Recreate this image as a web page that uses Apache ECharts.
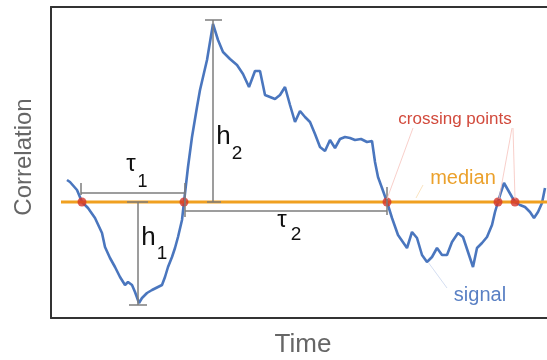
<!DOCTYPE html>
<html><head><meta charset="utf-8">
<script src="https://cdn.jsdelivr.net/npm/echarts@6/dist/echarts.min.js"></script>
<style>html,body{margin:0;padding:0;background:#fff}#c{width:547px;height:360px}</style>
</head><body><div id="c"></div>
<script>
// Signal (time, correlation); median level = 0
const time = [16,19,26,31,37,44,51,54,59,64,69,74,77,81,84,88,91,96,101,107,111,114,117,121,124,127,131,133,137,141,146,149,156,162,167,172,179,186,192,198,204,209,214,219,224,229,234,239,244,249,254,259,264,269,274,279,284,289,294,299,304,310,316,321,324,327,331,336,341,347,356,361,366,371,376,381,386,391,396,401,407,412,417,422,426,431,436,441,444,447,450,453,457,461,464,469,474,479,483,487,491,494];
const signal = [0.22,0.20,0.12,0.00,-0.06,-0.16,-0.31,-0.45,-0.56,-0.65,-0.75,-0.83,-0.80,-0.83,-0.90,-1.01,-0.96,-0.91,-0.88,-0.85,-0.83,-0.75,-0.65,-0.55,-0.46,-0.35,-0.18,0.00,0.35,0.65,0.95,1.12,1.42,1.78,1.62,1.50,1.43,1.37,1.28,1.15,1.31,1.31,1.07,1.05,1.03,1.07,1.15,0.97,0.80,0.91,0.85,0.80,0.68,0.55,0.51,0.62,0.54,0.63,0.65,0.64,0.62,0.63,0.60,0.61,0.40,0.25,0.14,0.00,-0.16,-0.33,-0.46,-0.30,-0.36,-0.53,-0.60,-0.55,-0.46,-0.53,-0.53,-0.40,-0.31,-0.35,-0.50,-0.65,-0.46,-0.41,-0.35,-0.23,-0.10,0.00,0.10,0.19,0.12,0.05,0.00,-0.03,-0.05,-0.10,-0.16,-0.10,-0.01,0.14];
const medianValue = 0;
const medianSpan = [10, 496];
const crossTimes = [31, 133, 336, 447, 464];
// annotation brackets (data units)
const tau1 = {from: 30, to: 134, level: 0.093, tickTop: 0.19, tickBottomL: 0.07, tickBottomR: -0.15};
const tau2 = {from: 134, to: 336, level: -0.087, tickTop: 0.15, tickBottom: -0.13};
const h1 = {at: 87, top: 0, bottom: -1.03, half: 10};
const h2 = {at: 162, top: 1.82, bottom: 0, half: 8};

const chart = echarts.init(document.getElementById('c'), null, {renderer: 'canvas'});
const sigData = time.map((t, i) => [t, signal[i]]);
const cross = crossTimes.map(t => [t, medianValue]);
const seg = (x1, y1, x2, y2) => [{coord: [x1, y1]}, {coord: [x2, y2]}];
const bracketLines = [
  seg(tau1.from, tau1.level, tau1.to, tau1.level),
  seg(tau1.from, tau1.tickTop, tau1.from, tau1.tickBottomL),
  seg(tau1.to, tau1.tickTop, tau1.to, tau1.tickBottomR),
  seg(tau2.from, tau2.level, tau2.to, tau2.level),
  seg(tau2.to, tau2.tickTop, tau2.to, tau2.tickBottom),
  seg(h1.at, h1.top, h1.at, h1.bottom),
  seg(h1.at - h1.half - 1, h1.top, h1.at + h1.half, h1.top),
  seg(h1.at - h1.half + 1, h1.bottom, h1.at + h1.half - 1, h1.bottom),
  seg(h2.at, h2.top, h2.at, h2.bottom),
  seg(h2.at - h2.half, h2.top, h2.at + h2.half + 1, h2.top),
  seg(h2.at - h2.half + 2, h2.bottom, h2.at + h2.half, h2.bottom)
];
const F = 'Liberation Sans, Arial, Helvetica, sans-serif';
const txt = (x, y, s, size, color, rot) => ({type: 'text', x: x, y: y, z: 100, rotation: rot || 0,
  style: {text: s, font: size + 'px ' + F, fill: color, textAlign: 'center', textVerticalAlign: 'middle'}});
const ln = (x1, y1, x2, y2, color) => ({type: 'line', z: 50, shape: {x1, y1, x2, y2},
  style: {stroke: color, lineWidth: 0.8}});
const frame = {show: true, onZero: false, lineStyle: {color: '#333', width: 2}};
const bare = {axisTick: {show: false}, axisLabel: {show: false}, splitLine: {show: false}};

chart.setOption({
  animation: false,
  grid: {left: 51, top: 7, right: 0, bottom: 42},
  xAxis: [
    Object.assign({type: 'value', min: 0, max: 496, position: 'bottom', axisLine: frame}, bare),
    Object.assign({type: 'value', min: 0, max: 496, position: 'top', axisLine: frame}, bare)
  ],
  yAxis: Object.assign({type: 'value', min: -1.16, max: 1.95, position: 'left', axisLine: frame}, bare),
  series: [
    {type: 'line', z: 1, data: [], markLine: {silent: true, symbol: 'none', animation: false, label: {show: false},
      lineStyle: {color: '#7d7d7d', width: 1.5, type: 'solid'}, data: bracketLines}},
    {type: 'line', z: 2, data: sigData, showSymbol: false, lineStyle: {color: '#4a76be', width: 2.6}},
    {type: 'line', z: 3, data: [[medianSpan[0], medianValue], [medianSpan[1], medianValue]], showSymbol: false,
      lineStyle: {color: '#f0a020', width: 3}},
    {type: 'scatter', z: 4, data: cross, symbolSize: 9, itemStyle: {color: '#d4342a'}}
  ],
  graphic: [
    txt(24, 157, 'Correlation', 24, '#666', Math.PI / 2),
    txt(303, 345, 'Time', 26, '#666'),
    txt(131, 164, 'τ', 24, '#111'), txt(142.5, 182.5, '1', 18, '#111'),
    txt(282, 220.5, 'τ', 24, '#111'), txt(296, 235, '2', 19, '#111'),
    txt(148.5, 237.5, 'h', 26, '#111'), txt(162, 253.5, '1', 19, '#111'),
    txt(223.5, 137, 'h', 26, '#111'), txt(237, 154, '2', 19, '#111'),
    txt(455, 119.5, 'crossing points', 17, '#d24a3c'),
    txt(463, 178, 'median', 20, '#eba12c'),
    txt(480, 295, 'signal', 20, '#5a80c4'),
    ln(413, 128, 387, 199, '#f6c3bc'), ln(512, 128, 499, 199, '#f6c3bc'), ln(513, 128, 515, 199, '#f6c3bc'),
    ln(423, 185, 416, 198, '#f9dcb0'),
    ln(428, 262, 447, 288, '#c9d5ee')
  ]
});
</script></body></html>
